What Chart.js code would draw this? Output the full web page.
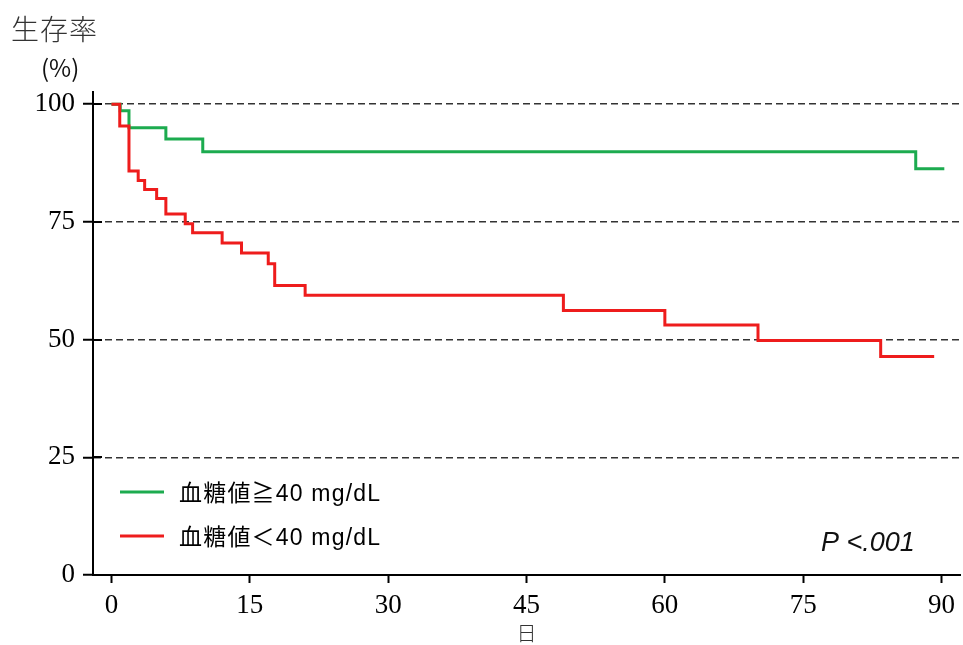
<!DOCTYPE html>
<html lang="ja">
<head>
<meta charset="utf-8">
<title>生存率</title>
<script src="https://cdn.jsdelivr.net/npm/chart.js@4.4.1/dist/chart.umd.min.js"></script>
<style>
    html, body { margin: 0; padding: 0; background: #fff; }
    #wrap { width: 963px; height: 645px; position: relative; }
</style>
</head>
<body>
<div id="wrap"><canvas id="survivalChart"></canvas></div>
<script>
// Kaplan-Meier survival (%)
const highDays = [0, 0.95, 1.9, 5.9, 9.9, 87.2, 90.3];
const highSurv = [100, 98.6, 95.0, 92.6, 89.9, 86.3, 86.3];

const lowDays = [0, 0.9, 1.9, 2.9, 3.6, 4.9, 5.9, 8.0, 8.8, 12.0, 14.1, 17.0, 17.7, 21.0, 49.0, 60.0, 70.1, 83.4, 89.2];
const lowSurv = [100, 95.4, 85.8, 83.8, 81.9, 80.0, 76.7, 74.6, 72.7, 70.5, 68.4, 66.1, 61.5, 59.4, 56.2, 53.1, 49.8, 46.4, 46.4];

const seriesLabels = ['血糖値≧40 mg/dL', '血糖値＜40 mg/dL'];
const xTicks = [0, 15, 30, 45, 60, 75, 90];
const yTicks = [0, 25, 50, 75, 100];

const GREEN = '#1cab4f';
const RED = '#ee1c1c';
const SERIF = '"Liberation Serif", "DejaVu Serif", serif';
const SANS = '"Liberation Sans", "Noto Sans CJK JP", sans-serif';
const CJK = '"Noto Sans CJK JP", sans-serif';

function toPoints(xs, ys) {
    return xs.map((x, i) => ({ x: x, y: ys[i] }));
}

/**
 * Draws the texts and legend that sit inside / around the plot area.
 */
const annotations = {
    id: 'annotations',
    afterDraw(chart) {
        const ctx = chart.ctx;
        const yScale = chart.scales.y;
        const area = chart.chartArea;
        ctx.save();

        // inner half of the cross-shaped y ticks
        ctx.strokeStyle = '#000';
        ctx.lineWidth = 2;
        yTicks.forEach(v => {
            if (v === 0) return;
            const py = Math.round(yScale.getPixelForValue(v));
            ctx.beginPath();
            ctx.moveTo(area.left, py);
            ctx.lineTo(area.left + 9, py);
            ctx.stroke();
        });

        // y title
        ctx.fillStyle = '#333';
        ctx.textBaseline = 'middle';
        ctx.textAlign = 'left';
        ctx.font = '300 28px ' + CJK;
        ctx.letterSpacing = '1px';
        ctx.fillText('生存率', 11, 29);
        ctx.letterSpacing = '0px';
        ctx.fillStyle = '#111';
        ctx.font = '24px ' + CJK;
        ctx.fillText('(%)', 41, 68);

        // legend
        const items = [
            { label: seriesLabels[0], color: GREEN, y: 492 },
            { label: seriesLabels[1], color: RED, y: 536 }
        ];
        ctx.font = '23px ' + SANS;
        ctx.letterSpacing = '1.2px';
        items.forEach(it => {
            ctx.strokeStyle = it.color;
            ctx.lineWidth = 3;
            ctx.beginPath();
            ctx.moveTo(120, it.y);
            ctx.lineTo(164, it.y);
            ctx.stroke();
            ctx.fillStyle = '#000';
            ctx.fillText(it.label, 179, it.y + 3);
        });
        ctx.letterSpacing = '0px';

        // p value
        ctx.font = 'italic 27px ' + SANS;
        ctx.fillStyle = '#111';
        ctx.fillText('P <.001', 821, 543);
        ctx.restore();
    }
};

function initSurvivalChart() {
    const canvas = document.getElementById('survivalChart');
    new Chart(canvas, {
        type: 'line',
        data: {
            datasets: [
                {
                    label: seriesLabels[0],
                    data: toPoints(highDays, highSurv),
                    borderColor: GREEN,
                    borderWidth: 3,
                    stepped: 'before',
                    pointRadius: 0,
                    fill: false,
                    order: 1
                },
                {
                    label: seriesLabels[1],
                    data: toPoints(lowDays, lowSurv),
                    borderColor: RED,
                    borderWidth: 3,
                    stepped: 'before',
                    pointRadius: 0,
                    fill: false,
                    order: 0
                }
            ]
        },
        options: {
            responsive: true,
            maintainAspectRatio: false,
            animation: false,
            devicePixelRatio: 1,
            layout: { padding: { top: 92, right: 3, left: 0, bottom: 0 } },
            plugins: {
                legend: { display: false },
                tooltip: { enabled: false }
            },
            scales: {
                x: {
                    type: 'linear',
                    min: -2,
                    max: 92,
                    afterBuildTicks: scale => { scale.ticks = xTicks.map(v => ({ value: v })); },
                    afterFit: scale => { scale.height = 70; },
                    grid: {
                        drawOnChartArea: false,
                        drawTicks: true,
                        tickLength: 8,
                        tickWidth: 2,
                        tickColor: '#000'
                    },
                    border: { display: true, color: '#000', width: 2 },
                    ticks: {
                        color: '#000',
                        font: { family: SERIF, size: 27 },
                        padding: 7,
                        maxRotation: 0
                    },
                    title: {
                        display: true,
                        text: '日',
                        color: '#333',
                        font: { family: CJK, size: 20, weight: '300' },
                        padding: { top: 0, bottom: 0 }
                    }
                },
                y: {
                    min: 0,
                    max: 102.6,
                    afterBuildTicks: scale => { scale.ticks = yTicks.map(v => ({ value: v })); },
                    afterFit: scale => { scale.width = 93; },
                    grid: {
                        drawOnChartArea: true,
                        drawTicks: true,
                        tickLength: 10,
                        tickWidth: 2,
                        tickColor: '#000',
                        lineWidth: 1.5,
                        color: ctx => (ctx.tick && ctx.tick.value === 0) ? 'rgba(0,0,0,0)' : '#333'
                    },
                    border: { display: true, color: '#000', width: 2, dash: [7, 4] },
                    ticks: {
                        color: '#000',
                        font: { family: SERIF, size: 27 },
                        padding: 8
                    }
                }
            }
        },
        plugins: [annotations]
    });
}

document.addEventListener('DOMContentLoaded', initSurvivalChart);
</script>
</body>
</html>
